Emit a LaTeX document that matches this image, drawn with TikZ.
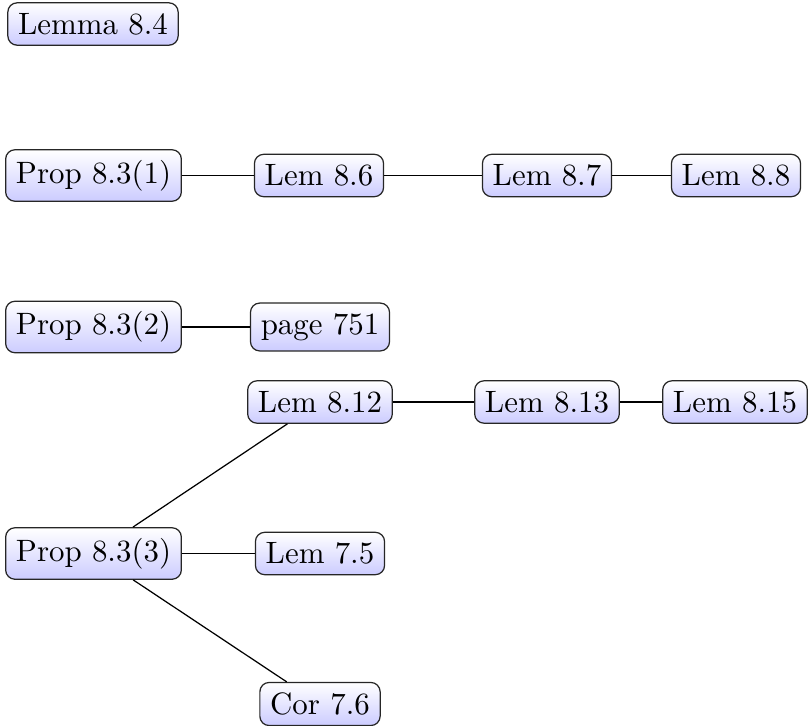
\documentclass[tikz,border=0pt]{standalone}
\usetikzlibrary{shadings}
\begin{document}
\begin{tikzpicture}[x=0.3236pt,y=-0.3236pt,
  box/.style={draw=black!85, rounded corners=3pt, top color=white, bottom color=blue!20, inner sep=0.3333em},
  link/.style={draw=black}]
\useasboundingbox (0,0) rectangle (809,725);
\node[box] (l84) at (93,24) {Lemma 8.4};
\node[box] (p1) at (93.5,175.5) {Prop 8.3(1)};
\node[box] (l86) at (319,175.5) {Lem 8.6};
\node[box] (l87) at (547,175.5) {Lem 8.7};
\node[box] (l88) at (736,175.5) {Lem 8.8};
\node[box] (p2) at (93.5,327) {Prop 8.3(2)};
\node[box] (pg) at (320,327) {page 751};
\node[box] (l812) at (320,402) {Lem 8.12};
\node[box] (l813) at (547,402) {Lem 8.13};
\node[box] (l815) at (735,402) {Lem 8.15};
\node[box] (p3) at (93.5,553.5) {Prop 8.3(3)};
\node[box] (l75) at (320,553.5) {Lem 7.5};
\node[box] (c76) at (320,704) {Cor 7.6};
\draw[link] (p1) -- (l86);
\draw[link] (l86) -- (l87);
\draw[link] (l87) -- (l88);
\draw[link] (p2) -- (pg);
\draw[link] (p3) -- (l812);
\draw[link] (l812) -- (l813);
\draw[link] (l813) -- (l815);
\draw[link] (p3) -- (l75);
\draw[link] (p3) -- (c76);
\end{tikzpicture}
\end{document}
